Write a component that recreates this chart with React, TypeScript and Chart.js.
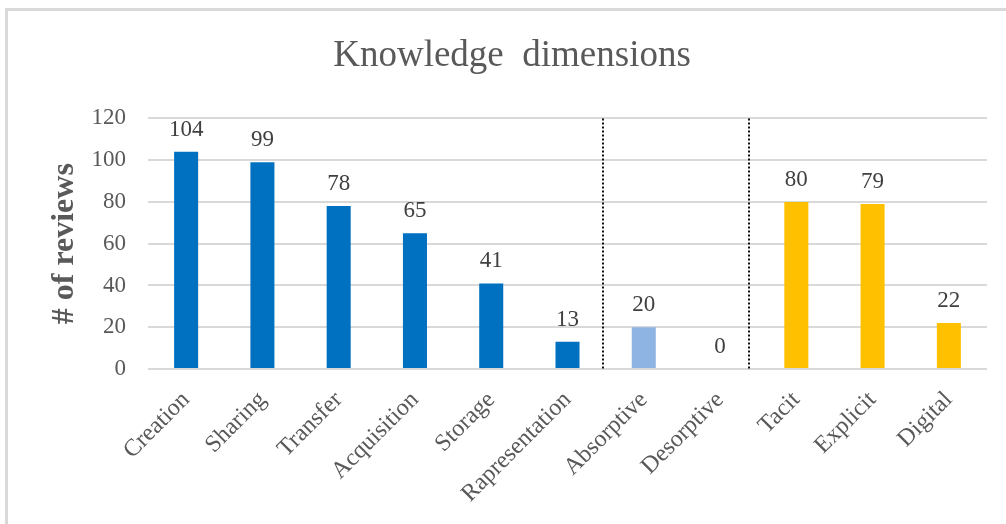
import React, { useEffect, useRef } from 'react';
import { Chart, registerables } from 'chart.js';

Chart.register(...registerables);

// Review counts per knowledge dimension
const categories = [
  'Creation',
  'Sharing',
  'Transfer',
  'Acquisition',
  'Storage',
  'Rapresentation',
  'Absorptive',
  'Desorptive',
  'Tacit',
  'Explicit',
  'Digital',
];
const reviewCounts = [104, 99, 78, 65, 41, 13, 20, 0, 80, 79, 22];
// Which family each dimension belongs to
const dimensionGroup = [
  'process', 'process', 'process', 'process', 'process', 'process',
  'capacity', 'capacity',
  'type', 'type', 'type',
];
const yTicks = [0, 20, 40, 60, 80, 100, 120];

const groupColors: Record<string, string> = {
  process: '#0070C0',
  capacity: '#8EB4E3',
  type: '#FFC000',
};

const SERIF = '"Liberation Serif", "Times New Roman", Times, serif';
const TEXT = '#595959';

// Writes each bar's value above it
const valueLabels = {
  id: 'valueLabels',
  afterDatasetsDraw(chart: any) {
    const { ctx } = chart;
    const meta = chart.getDatasetMeta(0);
    ctx.save();
    ctx.font = `23px ${SERIF}`;
    ctx.fillStyle = '#404040';
    ctx.textAlign = 'center';
    ctx.textBaseline = 'alphabetic';
    meta.data.forEach((bar: any, i: number) => {
      ctx.fillText(String(reviewCounts[i]), bar.x, bar.y - 16);
    });
    ctx.restore();
  },
};

// Dotted separators between dimension families (positions in category units)
const groupDividers = {
  id: 'groupDividers',
  afterDatasetsDraw(chart: any, _args: any, opts: any) {
    const { ctx, chartArea } = chart;
    const x = chart.scales.x;
    const step = x.getPixelForValue(1) - x.getPixelForValue(0);
    ctx.save();
    ctx.strokeStyle = '#111111';
    ctx.lineWidth = 2;
    ctx.setLineDash([2, 2]);
    (opts.at || []).forEach((pos: number) => {
      const base = Math.floor(pos);
      const px = Math.round(x.getPixelForValue(base) + (pos - base) * step);
      ctx.beginPath();
      ctx.moveTo(px, chartArea.top);
      ctx.lineTo(px, chartArea.bottom);
      ctx.stroke();
    });
    ctx.restore();
  },
};

export default function App() {
  const canvasRef = useRef<HTMLCanvasElement | null>(null);

  useEffect(() => {
    if (!canvasRef.current) return;
    const chart = new Chart(canvasRef.current, {
      type: 'bar',
      data: {
        labels: categories,
        datasets: [
          {
            label: '# of reviews',
            data: reviewCounts,
            backgroundColor: dimensionGroup.map((g) => groupColors[g]),
            barPercentage: 0.315,
            categoryPercentage: 1,
          },
        ],
      },
      options: {
        responsive: false,
        animation: false,
        layout: { padding: { left: 37, right: 19, top: 0, bottom: 0 } },
        plugins: {
          legend: { display: false },
          tooltip: { enabled: false },
          title: {
            display: true,
            text: 'Knowledge  dimensions',
            color: TEXT,
            font: { family: SERIF, size: 37, weight: 'normal' },
            padding: { top: 34, bottom: 40 },
          },
          groupDividers: { at: [5.465, 7.38] },
        } as any,
        scales: {
          x: {
            grid: { display: false },
            border: { display: false },
            ticks: {
              color: TEXT,
              font: { family: SERIF, size: 24 },
              maxRotation: 45,
              minRotation: 45,
              autoSkip: false,
              padding: 9,
            },
            afterFit: (s: any) => {
              s.height = 155;
            },
          },
          y: {
            min: 0,
            max: 120,
            afterBuildTicks: (s: any) => {
              s.ticks = yTicks.map((v) => ({ value: v }));
            },
            grid: { color: '#d9d9d9', lineWidth: 2, drawTicks: false },
            border: { display: false },
            ticks: {
              color: TEXT,
              font: { family: SERIF, size: 23 },
              padding: 22,
            },
            title: {
              display: true,
              text: '# of reviews',
              color: TEXT,
              font: { family: SERIF, size: 32, weight: 'bold' },
              padding: { top: 9, bottom: 0 },
            },
            afterFit: (s: any) => {
              s.width = 111;
            },
          },
        },
      },
      plugins: [valueLabels, groupDividers],
    });
    return () => chart.destroy();
  }, []);

  return (
    <div
      style={{
        position: 'fixed',
        left: 0,
        top: 0,
        width: 1006,
        height: 524,
        background: '#ffffff',
        overflow: 'hidden',
      }}
    >
      <div
        style={{
          position: 'absolute',
          left: 5,
          top: 8,
          right: -10,
          bottom: -10,
          borderTop: '3px solid #d9d9d9',
          borderLeft: '3px solid #d9d9d9',
        }}
      />
      <canvas
        ref={canvasRef}
        width={1006}
        height={524}
        style={{ position: 'absolute', left: 0, top: 0 }}
      />
    </div>
  );
}
